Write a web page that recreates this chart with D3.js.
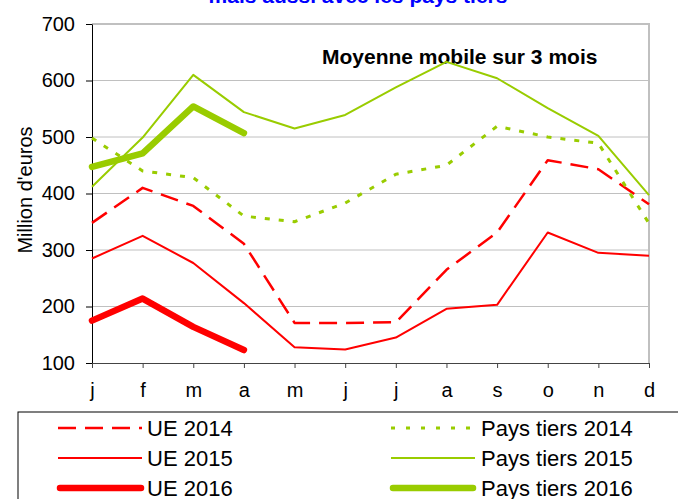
<!DOCTYPE html>
<html>
<head>
<meta charset="utf-8">
<script src="https://cdn.jsdelivr.net/npm/d3@7"></script>
<style>
  body { margin: 0; background: #fff; }
  svg { font-family: "Liberation Sans", Arial, sans-serif; }
</style>
</head>
<body>
<div id="viz"></div>
<script>
var width = 678
var height = 499

// data (moyenne mobile sur 3 mois, million d'euros)
var months = ["j", "f", "m", "a", "m", "j", "j", "a", "s", "o", "n", "d"]
var yTicks = [100, 200, 300, 400, 500, 600, 700]
var ue2014 = [348, 410, 378, 311, 171, 171, 172, 265, 331, 459, 443, 381]
var ue2015 = [285, 325, 277, 206, 128, 124, 145, 196, 203, 331, 295, 290]
var ue2016 = [175, 214, 164, 123]
var pt2014 = [498, 440, 428, 360, 350, 383, 434, 450, 519, 500, 489, 347]
var pt2015 = [412, 499, 610, 544, 515, 539, 588, 633, 604, 551, 502, 397]
var pt2016 = [447, 471, 554, 507]

var red = "#ff0000", green = "#99cc00"

var series = [
  {name: "UE 2014", values: ue2014, color: red, w: 2.5, dash: "18,9"},
  {name: "UE 2015", values: ue2015, color: red, w: 2, dash: null},
  {name: "UE 2016", values: ue2016, color: red, w: 6.5, dash: null},
  {name: "Pays tiers 2014", values: pt2014, color: green, w: 3, dash: "5,9"},
  {name: "Pays tiers 2015", values: pt2015, color: green, w: 2, dash: null},
  {name: "Pays tiers 2016", values: pt2016, color: green, w: 6.5, dash: null}
]

var svg = d3.select("#viz")
  .append("svg")
  .attr("width", width)
  .attr("height", height)

var x = d3.scalePoint()
  .domain(d3.range(12))
  .range([92, 649])

var y = d3.scaleLinear()
  .domain([100, 700])
  .range([363, 24])

// title, cut at the top
svg.append("text")
  .attr("x", 358).attr("y", 3)
  .attr("text-anchor", "middle")
  .attr("font-size", 21).attr("font-weight", "bold")
  .attr("fill", "#0000ff")
  .text("mais aussi avec les pays tiers")

// gridlines
svg.append("g")
  .selectAll("line")
  .data(yTicks.slice(1))
  .enter().append("line")
    .attr("x1", 92).attr("x2", 649)
    .attr("y1", d => y(d)).attr("y2", d => y(d))
    .attr("stroke", "#c0c0c0").attr("stroke-width", 1)

// top and right border
svg.append("line")
  .attr("x1", 649).attr("x2", 649).attr("y1", y(700)).attr("y2", y(100))
  .attr("stroke", "#c0c0c0").attr("stroke-width", 2)
svg.append("line")
  .attr("x1", 92).attr("x2", 650).attr("y1", y(700)).attr("y2", y(700))
  .attr("stroke", "#c0c0c0").attr("stroke-width", 2)

// axes
var yAxis = svg.append("g")
  .attr("transform", "translate(92,0)")
  .call(d3.axisLeft(y).tickValues(yTicks).tickSize(6).tickSizeOuter(0).tickPadding(11))
yAxis.select(".domain").attr("stroke", "#000")
yAxis.selectAll("text").attr("font-size", 20).attr("font-family", "Liberation Sans, Arial, sans-serif").attr("fill", "#000")

var xAxis = svg.append("g")
  .attr("transform", "translate(0," + y(100) + ")")
  .call(d3.axisBottom(x).tickSize(5).tickSizeOuter(0).tickPadding(15).tickFormat(i => months[i]))
xAxis.select(".domain").attr("stroke", "#444")
xAxis.selectAll(".tick line").attr("stroke", "#444")
xAxis.selectAll("text").attr("font-size", 20).attr("font-family", "Liberation Sans, Arial, sans-serif").attr("fill", "#000")

svg.append("text")
  .attr("transform", "translate(32,190) rotate(-90)")
  .attr("text-anchor", "middle")
  .attr("font-size", 20)
  .text("Million d'euros")

svg.append("text")
  .attr("x", 322).attr("y", 64)
  .attr("font-size", 21).attr("font-weight", "bold")
  .text("Moyenne mobile sur 3 mois")

// lines
var line = d3.line()
  .x((d, i) => x(i))
  .y(d => y(d))

svg.append("g")
  .selectAll("path")
  .data(series)
  .enter().append("path")
    .attr("d", d => line(d.values))
    .attr("fill", "none")
    .attr("stroke", d => d.color)
    .attr("stroke-width", d => d.w)
    .attr("stroke-dasharray", d => d.dash)
    .attr("stroke-linecap", d => d.w > 4 ? "round" : "butt")
    .attr("stroke-linejoin", "round")

// legend
svg.append("rect")
  .attr("x", 18).attr("y", 412)
  .attr("width", 700).attr("height", 120)
  .attr("fill", "none").attr("stroke", "#000").attr("stroke-width", 1)

var leg = svg.append("g")
  .selectAll("g")
  .data(series)
  .enter().append("g")
    .attr("transform", (d, i) => "translate(" + (i < 3 ? 58 : 391) + "," + (428 + (i % 3) * 30) + ")")

leg.append("line")
  .attr("x1", d => d.w > 4 ? 2 : 0)
  .attr("x2", (d, i) => i < 3 ? (d.w > 4 ? 83 : 84) : (d.w > 4 ? 82 : 84))
  .attr("stroke", d => d.color)
  .attr("stroke-width", d => d.w)
  .attr("stroke-dasharray", (d, i) => i === 3 ? "4,11" : d.dash)
  .attr("stroke-linecap", d => d.w > 4 ? "round" : "butt")

leg.append("text")
  .attr("x", (d, i) => i < 3 ? 89 : 90)
  .attr("y", 8)
  .attr("font-size", 22)
  .text(d => d.name)
</script>
</body>
</html>
